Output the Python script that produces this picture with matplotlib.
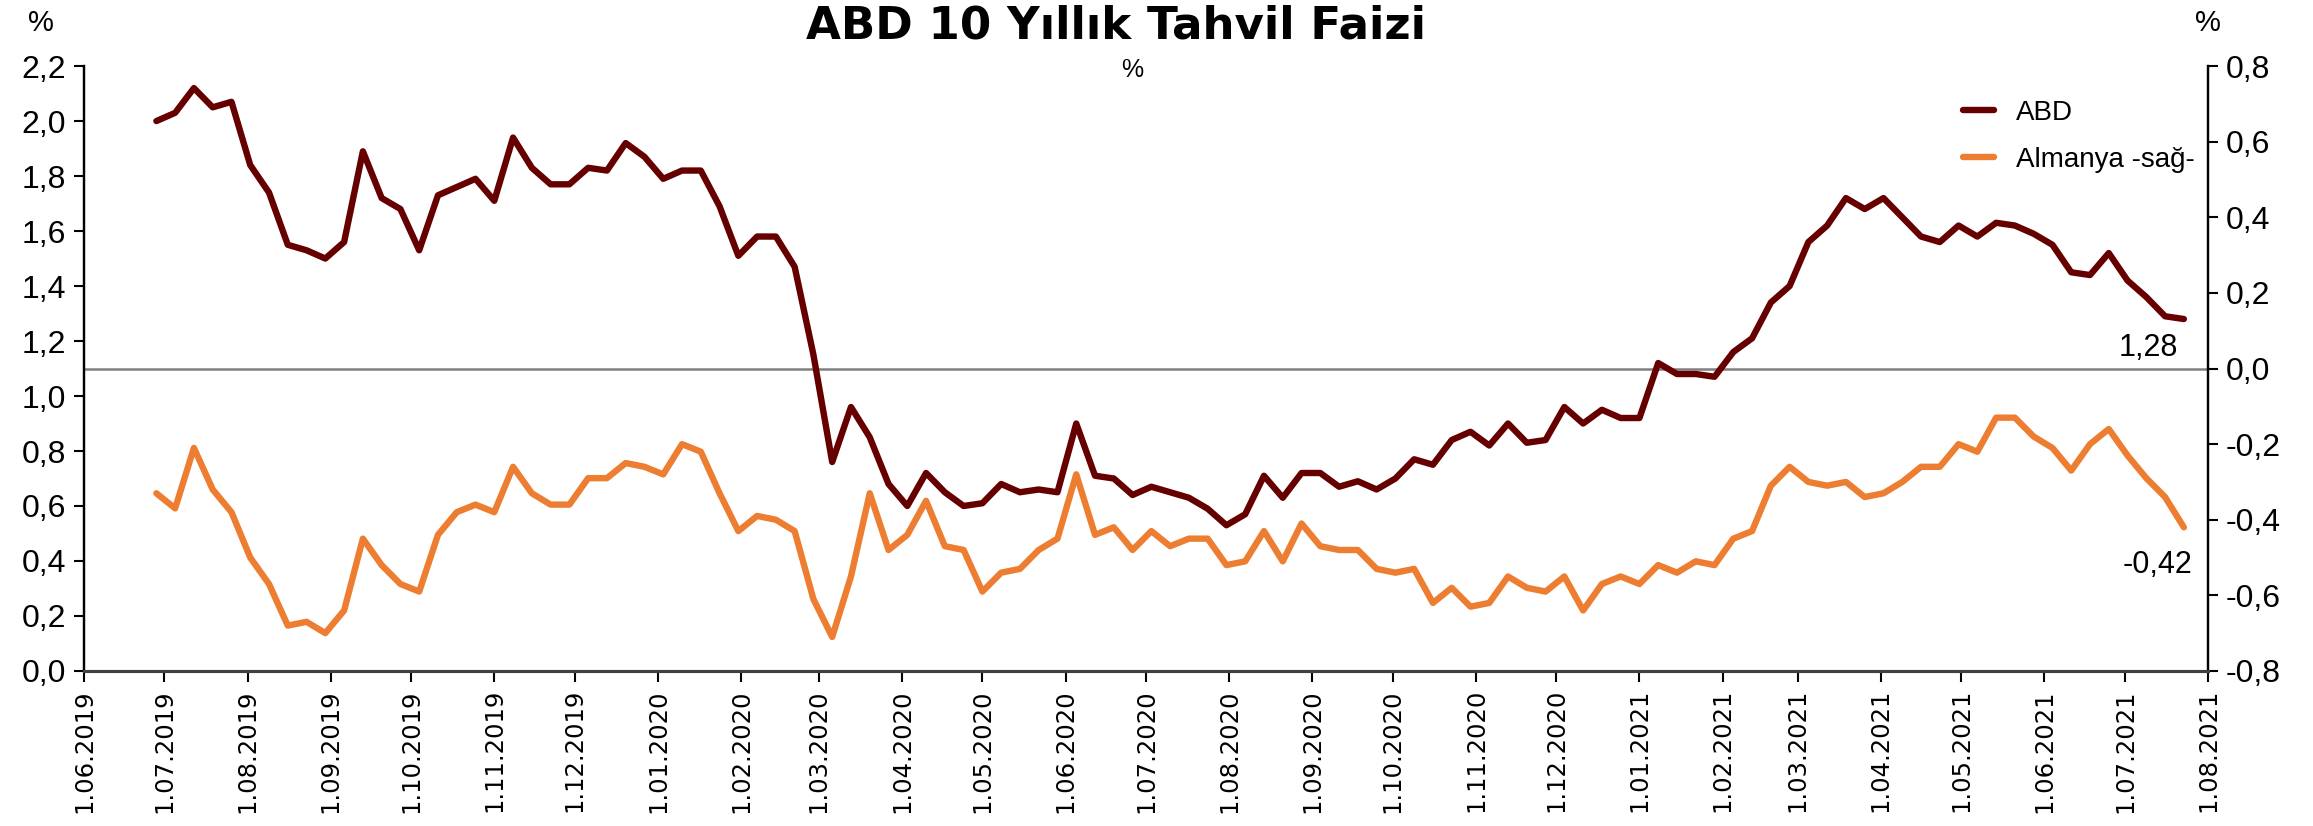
import matplotlib
matplotlib.use('Agg')
import matplotlib.pyplot as plt
import matplotlib.dates as mdates
from matplotlib.ticker import FuncFormatter, MultipleLocator
import pandas as pd

# weekly observations (Fridays)
dates = pd.date_range('2019-06-28', periods=109, freq='7D')

abd = [2.00, 2.03, 2.12, 2.05, 2.07, 1.84, 1.74, 1.55, 1.53, 1.50,
       1.56, 1.89, 1.72, 1.68, 1.53, 1.73, 1.76, 1.79, 1.71, 1.94,
       1.83, 1.77, 1.77, 1.83, 1.82, 1.92, 1.87, 1.79, 1.82, 1.82,
       1.69, 1.51, 1.58, 1.58, 1.47, 1.15, 0.76, 0.96, 0.85, 0.68,
       0.60, 0.72, 0.65, 0.60, 0.61, 0.68, 0.65, 0.66, 0.65, 0.90,
       0.71, 0.70, 0.64, 0.67, 0.65, 0.63, 0.59, 0.53, 0.57, 0.71,
       0.63, 0.72, 0.72, 0.67, 0.69, 0.66, 0.70, 0.77, 0.75, 0.84,
       0.87, 0.82, 0.90, 0.83, 0.84, 0.96, 0.90, 0.95, 0.92, 0.92,
       1.12, 1.08, 1.08, 1.07, 1.16, 1.21, 1.34, 1.40, 1.56, 1.62,
       1.72, 1.68, 1.72, 1.65, 1.58, 1.56, 1.62, 1.58, 1.63, 1.62,
       1.59, 1.55, 1.45, 1.44, 1.52, 1.42, 1.36, 1.29, 1.28]

almanya = [-0.33, -0.37, -0.21, -0.32, -0.38, -0.50, -0.57, -0.68, -0.67, -0.70,
           -0.64, -0.45, -0.52, -0.57, -0.59, -0.44, -0.38, -0.36, -0.38, -0.26,
           -0.33, -0.36, -0.36, -0.29, -0.29, -0.25, -0.26, -0.28, -0.20, -0.22,
           -0.33, -0.43, -0.39, -0.40, -0.43, -0.61, -0.71, -0.55, -0.33, -0.48,
           -0.44, -0.35, -0.47, -0.48, -0.59, -0.54, -0.53, -0.48, -0.45, -0.28,
           -0.44, -0.42, -0.48, -0.43, -0.47, -0.45, -0.45, -0.52, -0.51, -0.43,
           -0.51, -0.41, -0.47, -0.48, -0.48, -0.53, -0.54, -0.53, -0.62, -0.58,
           -0.63, -0.62, -0.55, -0.58, -0.59, -0.55, -0.64, -0.57, -0.55, -0.57,
           -0.52, -0.54, -0.51, -0.52, -0.45, -0.43, -0.31, -0.26, -0.30, -0.31,
           -0.30, -0.34, -0.33, -0.30, -0.26, -0.26, -0.20, -0.22, -0.13, -0.13,
           -0.18, -0.21, -0.27, -0.20, -0.16, -0.23, -0.29, -0.34, -0.42]

NARROW = ['Liberation Sans Narrow', 'Liberation Sans', 'DejaVu Sans']
C_ABD = '#660000'
C_DE = '#ED7D31'


def comma(v, pos=None):
    return f'{v:.1f}'.replace('.', ',')


def date_label(x, pos=None):
    d = mdates.num2date(x)
    return f'{d.day}.{d.month:02d}.{d.year}'


fig = plt.figure(figsize=(23.13, 8.26), dpi=100)
ax = fig.add_axes([0.0363, 0.1877, 0.9183, 0.7323])
ax2 = ax.twinx()

ax.axhline(1.1, color='#808080', lw=1.8, zorder=1)
l1, = ax.plot(dates, abd, color=C_ABD, lw=4.6, solid_capstyle='round',
              solid_joinstyle='round', label='ABD', zorder=3)
l2, = ax2.plot(dates, almanya, color=C_DE, lw=4.6, solid_capstyle='round',
               solid_joinstyle='round', label='Almanya -sağ-', zorder=3)

ax.set_xlim(pd.Timestamp('2019-06-01'), pd.Timestamp('2021-08-01'))
ax.set_ylim(0, 2.2)
ax2.set_ylim(-0.8, 0.8)
ax.yaxis.set_major_locator(MultipleLocator(0.2))
ax2.yaxis.set_major_locator(MultipleLocator(0.2))
ax.yaxis.set_major_formatter(FuncFormatter(comma))
ax2.yaxis.set_major_formatter(FuncFormatter(comma))
ax.xaxis.set_major_locator(mdates.MonthLocator())
ax.xaxis.set_major_formatter(FuncFormatter(date_label))

for a in (ax, ax2):
    a.spines['top'].set_visible(False)
    a.spines['left'].set_linewidth(1.6)
    a.spines['right'].set_linewidth(1.6)
    a.spines['bottom'].set_color('#404040')
    a.spines['bottom'].set_linewidth(2.2)

ax.tick_params(axis='y', direction='out', length=7, width=1.5, pad=6,
               labelsize=23, labelfontfamily='Liberation Sans')
ax2.tick_params(axis='y', direction='out', length=7, width=1.5, pad=6,
                labelsize=23, labelfontfamily='Liberation Sans')
ax.tick_params(axis='x', direction='out', length=8, width=1.5, pad=5,
               labelrotation=90, labelsize=17.5)

ax2.legend(handles=[l1, l2], loc='upper left', bbox_to_anchor=(0.873, 0.985),
           frameon=False, prop={'family': NARROW, 'size': 20},
           handlelength=1.1, handletextpad=0.8, labelspacing=0.75)

ax.annotate('1,28', xy=(dates[-1], abd[-1]), xytext=(-4, -10),
            textcoords='offset points', ha='right', va='top',
            family=NARROW, fontsize=22)
ax2.annotate('-0,42', xy=(dates[-1], almanya[-1]), xytext=(6, -16),
             textcoords='offset points', ha='right', va='top',
             family=NARROW, fontsize=22)

fig.text(0.4825, 0.995, 'ABD 10 Yıllık Tahvil Faizi', ha='center', va='top',
         fontsize=32.5, fontweight='bold')
fig.text(0.4897, 0.915, '%', ha='center', va='center', family=NARROW, fontsize=18)
fig.text(0.0177, 0.972, '%', ha='center', va='center', family=NARROW, fontsize=21)
fig.text(0.9546, 0.972, '%', ha='center', va='center', family=NARROW, fontsize=21)

fig.savefig('out.png', dpi=100)
